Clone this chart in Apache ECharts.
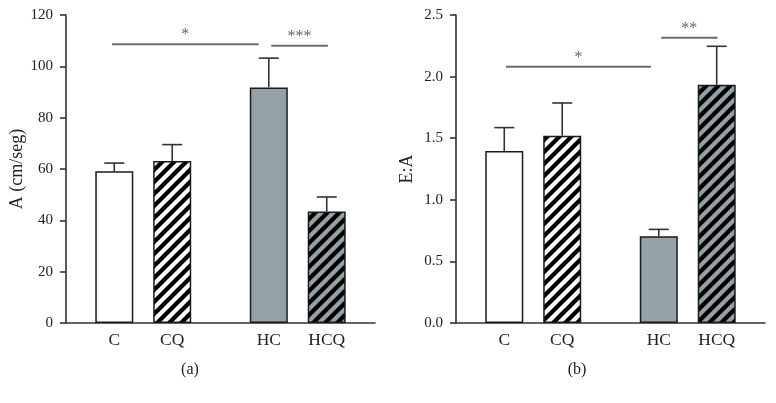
<!DOCTYPE html>
<html><head><meta charset="utf-8">
<script src="https://cdn.jsdelivr.net/npm/echarts@6/dist/echarts.min.js"></script>
<style>html,body{margin:0;padding:0;background:#fff}#c{width:776px;height:403px}</style>
</head><body><div id="c"></div>
<script>
// ---- data ----
const categories = ['C', 'CQ', 'HC', 'HCQ'];
const aValues = [59.1, 63.1, 91.8, 43.4];     // A (cm/seg)
const aErr    = [3.2, 6.4, 11.4, 5.7];
const eaValues = [1.396, 1.52, 0.704, 1.934]; // E:A
const eaErr    = [0.19, 0.266, 0.056, 0.312];
const aYTicks = [0, 20, 40, 60, 80, 100, 120];
const eaYTicks = [0, 0.5, 1.0, 1.5, 2.0, 2.5];
const aSig = [{from: 'C', to: 'HC', y: 108.6, label: '*', l: -0.24, r: -1.06},
              {from: 'HC', to: 'HCQ', y: 108.0, label: '***', l: 0.25, r: 0.12}];
const eaSig = [{from: 'C', to: 'HC', y: 2.08, label: '*', l: 0.18, r: -0.81},
               {from: 'HC', to: 'HCQ', y: 2.316, label: '**', l: 0.25, r: 0.08}];

// ---- layout ----
const SLOT = [5, 11, 21, 27];   // slot index of each bar on the x axis
const NSLOT = 33;
const slotCats = Array.from({length: NSLOT}, (_, i) => { const k = SLOT.indexOf(i); return k >= 0 ? categories[k] : ''; });
const FONT = '"Liberation Serif", "DejaVu Serif", serif';
const GREY = '#94a2a7';

function hatch(bg) {
  const s = 12, c = document.createElement('canvas');
  c.width = s; c.height = s;
  const g = c.getContext('2d');
  g.fillStyle = bg; g.fillRect(0, 0, s, s);
  g.strokeStyle = '#000'; g.lineWidth = 4.3; g.lineCap = 'square';
  for (const k of [-1, 0, 1]) { g.beginPath(); g.moveTo(k * s, s); g.lineTo(k * s + s, 0); g.stroke(); }
  return {image: c, repeat: 'repeat'};
}
const fills = ['#ffffff', hatch('#ffffff'), GREY, hatch(GREY)];

function barData(vals) {
  return vals.map((v, i) => ({value: [SLOT[i], v], itemStyle: {color: fills[i], borderColor: '#1a1a1a', borderWidth: 1.5}}));
}
function errData(vals, errs) { return vals.map((v, i) => [SLOT[i], v, errs[i]]); }
function sigData(sig) {
  return sig.map(s => [SLOT[categories.indexOf(s.from)] + s.l, SLOT[categories.indexOf(s.to)] + s.r, s.y, s.label]);
}

function errRender(params, api) {
  const x = api.value(0), y = api.value(1), e = api.value(2);
  const p0 = api.coord([x, y]), p1 = api.coord([x, y + e]);
  const st = {stroke: '#333', lineWidth: 1.6};
  return {type: 'group', children: [
    {type: 'line', shape: {x1: p0[0], y1: p0[1], x2: p1[0], y2: p1[1]}, style: st},
    {type: 'line', shape: {x1: p1[0] - 10, y1: p1[1], x2: p1[0] + 10, y2: p1[1]}, style: st}
  ]};
}
function sigRender(params, api) {
  const x0 = api.value(0), x1 = api.value(1), y = api.value(2);
  const label = params.seriesIndex === 2 ? aSig[params.dataIndex].label : eaSig[params.dataIndex].label;
  const bw = api.size([1, 0])[0];
  const f0 = Math.floor(x0), f1 = Math.floor(x1);
  const pa = api.coord([f0, y]), pb = api.coord([f1, y]);
  const xa = pa[0] + (x0 - f0) * bw, xb = pb[0] + (x1 - f1) * bw;
  return {type: 'group', children: [
    {type: 'line', shape: {x1: xa, y1: pa[1], x2: xb, y2: pa[1]}, style: {stroke: '#6a6a6a', lineWidth: 2}},
    {type: 'text', x: (xa + xb) / 2, y: pa[1] - 1, style: {text: label, font: '16px ' + FONT, fill: '#666', align: 'center', verticalAlign: 'bottom'}}
  ]};
}

function xAxis(gi) {
  return {type: 'category', gridIndex: gi, data: slotCats, boundaryGap: false,
    axisLine: {lineStyle: {color: '#333', width: 1.6}}, axisTick: {show: false},
    axisLabel: {interval: 0, margin: 8, fontFamily: FONT, fontSize: 17.5, color: '#222'}};
}
function yAxis(gi, ticks, name, fmt) {
  return {type: 'value', gridIndex: gi, min: ticks[0], max: ticks[ticks.length - 1], interval: ticks[1] - ticks[0],
    name: name, nameLocation: 'middle', nameGap: 40, nameTextStyle: {fontFamily: FONT, fontSize: 18, color: '#222'},
    splitLine: {show: false},
    axisLine: {show: true, lineStyle: {color: '#333', width: 1.6}},
    axisTick: {show: true, length: 6, lineStyle: {color: '#333', width: 1.6}},
    axisLabel: {margin: 13, fontFamily: FONT, fontSize: 15, color: '#222', formatter: fmt}};
}

const chart = echarts.init(document.getElementById('c'), null, {renderer: 'canvas'});
chart.setOption({
  animation: false,
  grid: [{left: 66, top: 15, width: 309, height: 308}, {left: 456, top: 15, width: 309, height: 308}],
  xAxis: [xAxis(0), xAxis(1)],
  yAxis: [yAxis(0, aYTicks, 'A (cm/seg)', v => String(v)), yAxis(1, eaYTicks, 'E:A', v => v.toFixed(1))],
  series: [
    {type: 'bar', xAxisIndex: 0, yAxisIndex: 0, barWidth: 38, data: barData(aValues)},
    {type: 'bar', xAxisIndex: 1, yAxisIndex: 1, barWidth: 38, data: barData(eaValues)},
    {type: 'custom', xAxisIndex: 0, yAxisIndex: 0, renderItem: sigRender, data: sigData(aSig), z: 5},
    {type: 'custom', xAxisIndex: 1, yAxisIndex: 1, renderItem: sigRender, data: sigData(eaSig), z: 5},
    {type: 'custom', xAxisIndex: 0, yAxisIndex: 0, renderItem: errRender, data: errData(aValues, aErr), z: 4},
    {type: 'custom', xAxisIndex: 1, yAxisIndex: 1, renderItem: errRender, data: errData(eaValues, eaErr), z: 4}
  ],
  graphic: [
    {type: 'text', x: 190, y: 370, style: {text: '(a)', font: '16px ' + FONT, fill: '#222', align: 'center', verticalAlign: 'middle'}},
    {type: 'text', x: 577, y: 370, style: {text: '(b)', font: '16px ' + FONT, fill: '#222', align: 'center', verticalAlign: 'middle'}}
  ]
});
</script></body></html>
